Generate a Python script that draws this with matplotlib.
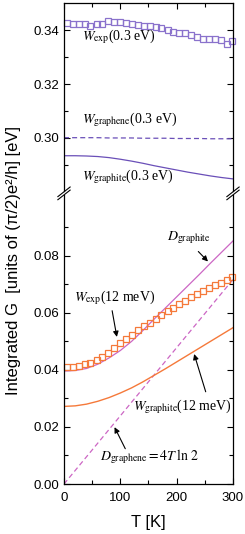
import numpy as np
import matplotlib
matplotlib.use('Agg')
import matplotlib.pyplot as plt
from matplotlib.ticker import MultipleLocator, FixedLocator, FormatStrFormatter

plt.rcParams['font.family'] = ['Liberation Sans', 'DejaVu Sans']
plt.rcParams['mathtext.fontset'] = 'stix'

# temperature grid of measured points
T_exp = [5, 16, 26, 37, 47, 58, 68, 79, 89, 100, 110, 121, 131, 142, 152,
         163, 173, 184, 194, 205, 215, 226, 236, 247, 257, 268, 278, 289, 299]

# W_exp (0.3 eV)
w_exp_03 = [0.3428, 0.3425, 0.3425, 0.3422, 0.3416, 0.3422, 0.3425, 0.3434,
            0.3431, 0.3430, 0.3428, 0.3425, 0.3420, 0.3417, 0.3415, 0.3412,
            0.3407, 0.3402, 0.3395, 0.3390, 0.3388, 0.3383, 0.3375, 0.3369,
            0.3368, 0.3369, 0.3363, 0.3348, 0.3361]

# W_exp (12 meV)
w_exp_12 = [0.0409, 0.0411, 0.0414, 0.0419, 0.0425, 0.0433, 0.0445, 0.0460,
            0.0476, 0.0494, 0.0509, 0.0524, 0.0540, 0.0553, 0.0566, 0.0580,
            0.0593, 0.0607, 0.0618, 0.0630, 0.0642, 0.0655, 0.0666, 0.0677,
            0.0687, 0.0697, 0.0706, 0.0715, 0.0724]

# model curves
T_model = [0, 20, 40, 60, 80, 100, 120, 140, 160, 180, 200, 220, 240, 260, 280, 300]
w_graphene_03 = [0.3001, 0.3001, 0.3001, 0.3001, 0.3000, 0.3000, 0.3000, 0.2999,
                 0.2999, 0.2999, 0.2998, 0.2998, 0.2998, 0.2997, 0.2997, 0.2997]
w_graphite_03 = [0.2934, 0.2934, 0.2933, 0.2931, 0.2927, 0.2921, 0.2914, 0.2906,
                 0.2897, 0.2889, 0.2881, 0.2873, 0.2866, 0.2859, 0.2853, 0.2848]
d_graphite = [0.0396, 0.0398, 0.0405, 0.0420, 0.0442, 0.0468, 0.0500, 0.0538,
              0.0578, 0.0617, 0.0656, 0.0695, 0.0734, 0.0774, 0.0813, 0.0852]
w_graphite_12 = [0.0272, 0.0274, 0.0280, 0.0290, 0.0303, 0.0319, 0.0337, 0.0358,
                 0.0381, 0.0404, 0.0428, 0.0452, 0.0476, 0.0500, 0.0524, 0.0548]
T_line = [0, 300]
d_graphene = [0.0, 0.0717]

purple = '#6a4fb8'
purple_sq = '#8a72cc'
orange = '#f5793a'
magenta = '#cc66c4'

fig = plt.figure(figsize=(2.45, 5.34), dpi=100)
ax_top = fig.add_axes([0.2612, 0.6423, 0.6898, 0.3515])
ax_bot = fig.add_axes([0.2612, 0.0936, 0.6898, 0.5412])

# top panel
ax_top.plot(T_exp, w_exp_03, 's', ms=4.6, mfc='none', mec=purple_sq, mew=0.9, clip_on=False)
ax_top.plot(T_model, w_graphene_03, '--', color=purple, lw=0.9, dashes=(4, 2.5))
ax_top.plot(T_model, w_graphite_03, '-', color=purple, lw=0.9)
ax_top.set_xlim(0, 300)
ax_top.set_ylim(0.2803, 0.35)
ax_top.spines['bottom'].set_visible(False)
ax_top.yaxis.set_major_locator(FixedLocator([0.30, 0.32, 0.34]))
ax_top.yaxis.set_minor_locator(FixedLocator([0.29, 0.31, 0.33]))
ax_top.yaxis.set_major_formatter(FormatStrFormatter('%.2f'))
ax_top.xaxis.set_major_locator(MultipleLocator(100))
ax_top.xaxis.set_minor_locator(MultipleLocator(50))
ax_top.tick_params(which='both', direction='in', top=True, bottom=False, right=True,
                   labelbottom=False, labelsize=9.5, width=0.8)
ax_top.tick_params(which='major', length=4)
ax_top.tick_params(which='minor', length=3)

# bottom panel
ax_bot.plot(T_line, d_graphene, '--', color=magenta, lw=0.9, dashes=(4, 2.5))
ax_bot.plot(T_model, d_graphite, '-', color=magenta, lw=0.9)
ax_bot.plot(T_model, w_graphite_12, '-', color=orange, lw=1.0)
ax_bot.plot(T_exp, w_exp_12, 's', ms=4.6, mfc='none', mec=orange, mew=0.9, clip_on=False)
ax_bot.set_xlim(0, 300)
ax_bot.set_ylim(0, 0.1013)
ax_bot.spines['top'].set_visible(False)
ax_bot.yaxis.set_major_locator(FixedLocator([0.0, 0.02, 0.04, 0.06, 0.08]))
ax_bot.yaxis.set_minor_locator(FixedLocator([0.01, 0.03, 0.05, 0.07, 0.09]))
ax_bot.yaxis.set_major_formatter(FormatStrFormatter('%.2f'))
ax_bot.xaxis.set_major_locator(MultipleLocator(100))
ax_bot.xaxis.set_minor_locator(MultipleLocator(50))
ax_bot.tick_params(which='both', direction='in', top=False, right=True, labelsize=9.5, width=0.8)
ax_bot.tick_params(axis='x', which='major', pad=5.5)
ax_bot.tick_params(which='major', length=4)
ax_bot.tick_params(which='minor', length=3)
ax_bot.set_xlabel('T [K]', fontsize=12, labelpad=8)

for ax in (ax_top, ax_bot):
    for s in ax.spines.values():
        s.set_linewidth(0.9)

# axis break marks
for xf in (0.2612, 0.951):
    for yf in (0.6408, 0.6350):
        fig.add_artist(plt.Line2D([xf - 0.025, xf + 0.025], [yf - 0.009, yf + 0.009],
                                  color='k', lw=0.8, transform=fig.transFigure))

fig.text(0.054, 0.513, 'Integrated G  [units of (π/2)e²/h] [eV]', rotation=90,
         ha='center', va='center', fontsize=12)

serif = dict(family='Liberation Serif', fontsize=10)
ax_top.text(32, 0.3375, r'$W_{\mathrm{exp}}$(0.3 eV)', va='center', **serif)
ax_top.text(32, 0.3067, r'$W_{\mathrm{graphene}}$(0.3 eV)', va='center', **serif)
ax_top.text(32, 0.2858, r'$W_{\mathrm{graphite}}$(0.3 eV)', va='center', **serif)

ax_bot.text(182, 0.0862, r'$D_{\mathrm{graphite}}$', va='center', **serif)
ax_bot.annotate('', xy=(259, 0.0773), xytext=(235, 0.0822),
                arrowprops=dict(arrowstyle='-|>', color='k', lw=0.8, mutation_scale=8))
ax_bot.text(17, 0.0654, r'$W_{\mathrm{exp}}$(12 meV)', va='center', **serif)
ax_bot.annotate('', xy=(94.7, 0.0506), xytext=(84.6, 0.0617),
                arrowprops=dict(arrowstyle='-|>', color='k', lw=0.8, mutation_scale=8))
ax_bot.text(123, 0.0272, r'$W_{\mathrm{graphite}}$(12 meV)', va='center', **serif)
ax_bot.annotate('', xy=(229.6, 0.0465), xytext=(253, 0.0314),
                arrowprops=dict(arrowstyle='-|>', color='k', lw=0.8, mutation_scale=8))
ax_bot.text(64, 0.0095, r'$D_{\mathrm{graphene}} = 4T\,\ln\,2$', va='center', **serif)
ax_bot.annotate('', xy=(87.5, 0.0208), xytext=(111, 0.0115),
                arrowprops=dict(arrowstyle='-|>', color='k', lw=0.8, mutation_scale=8))

fig.savefig('out.png', dpi=100)
